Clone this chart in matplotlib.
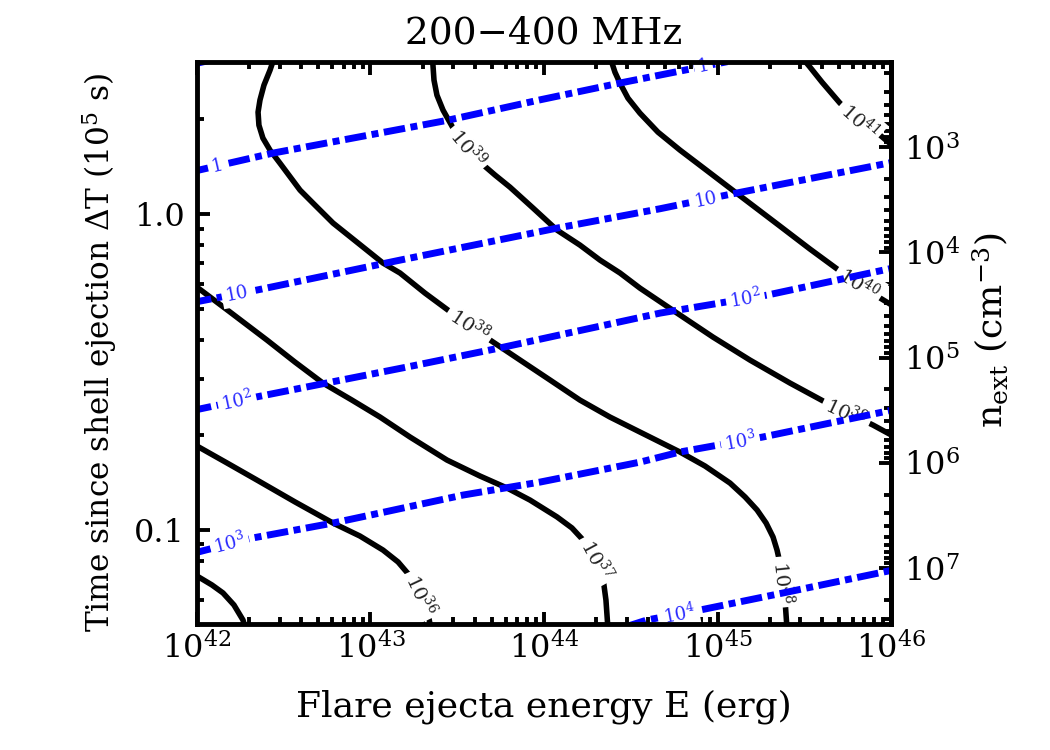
#!/usr/bin/env python3
"""
Radio luminosity contours (200-400 MHz) in the flare energy / time plane,
with external density lines and an n_ext axis on the right.
"""

import numpy as np
import matplotlib
matplotlib.use('Agg')
import matplotlib.pyplot as plt
from matplotlib.ticker import LogLocator, NullFormatter, FixedLocator, FuncFormatter

plt.rcParams['font.family'] = ['DejaVu Serif']
plt.rcParams['mathtext.fontset'] = 'dejavuserif'

TITLE = '200\u2212400 MHz'
X_LABEL = 'Flare ejecta energy E (erg)'
Y_LABEL = r'Time since shell ejection ΔT (10$^{5}$ s)'
Y2_LABEL = r'n$_{\rm ext}$ (cm$^{-3}$)'

E_LIM = (1e42, 1e46)
DT_LIM = (0.0504, 3.03)
Y_MAJOR = [0.1, 1.0]
N_MAJOR = [1e3, 1e4, 1e5, 1e6, 1e7]
N_EXT_AT_UNIT_DT = 4.33e3   # n_ext (cm^-3) at dT = 1 (1e5 s), n_ext ~ dT^-3

# black luminosity contours: log10(E / erg) and dT (1e5 s)
L41_LOGE = [45.481, 45.533, 45.602, 45.706, 45.821, 45.937, 46.012]
L41_DT = [3.162, 2.919, 2.617, 2.245, 1.969, 1.778, 1.641]
L40_LOGE = [44.375, 44.392, 44.409, 44.438, 44.484, 44.553, 44.657, 44.784, 44.928,
            45.072, 45.216, 45.360, 45.533, 45.706, 45.821, 45.919, 46.012]
L40_DT = [3.185, 3.005, 2.813, 2.597, 2.328, 2.087, 1.817, 1.594, 1.388,
          1.208, 1.052, 0.916, 0.775, 0.660, 0.600, 0.550, 0.512]
L39_LOGE = [43.354, 43.360, 43.366, 43.383, 43.418, 43.476, 43.550, 43.631, 43.718, 43.804,
            43.937, 44.075, 44.207, 44.323, 44.438, 44.553, 44.767, 44.974, 45.187, 45.418,
            45.631, 45.764, 45.896, 46.012]
L39_DT = [3.185, 2.961, 2.655, 2.380, 2.134, 1.872, 1.654, 1.461, 1.329, 1.217,
          1.045, 0.890, 0.798, 0.715, 0.651, 0.583, 0.486, 0.408, 0.3451, 0.2918,
          0.2522, 0.2329, 0.2149, 0.1984]
L38_LOGE = [42.450, 42.421, 42.386, 42.363, 42.352, 42.357, 42.380, 42.421, 42.478, 42.594,
            42.680, 42.784, 42.928, 43.072, 43.170, 43.314, 43.470, 43.573, 43.689, 43.862,
            44.035, 44.207, 44.380, 44.553, 44.784, 44.928, 45.072, 45.159, 45.228, 45.280,
            45.320, 45.343, 45.360, 45.378, 45.389, 45.401]
L38_DT = [3.185, 2.856, 2.560, 2.296, 2.103, 1.912, 1.740, 1.594, 1.450, 1.191,
          1.068, 0.937, 0.810, 0.700, 0.651, 0.5623, 0.486, 0.4455, 0.3994, 0.3451,
          0.2983, 0.2578, 0.2278, 0.2042, 0.1765, 0.1594, 0.1408, 0.1272, 0.1157, 0.1052,
          0.0950, 0.0864, 0.0786, 0.0690, 0.0600, 0.0483]
L37_LOGE = [41.960, 42.000, 42.190, 42.403, 42.565, 42.726, 42.893, 43.055, 43.228, 43.441,
            43.631, 43.787, 43.919, 44.075, 44.161, 44.225, 44.277, 44.311, 44.340, 44.357,
            44.369]
L37_DT = [0.609, 0.587, 0.490, 0.3994, 0.340, 0.2918, 0.2578, 0.2278, 0.1969, 0.1665,
          0.1482, 0.1358, 0.1244, 0.1100, 0.1015, 0.0930, 0.0858, 0.0792, 0.0705, 0.0600,
          0.0483]
L36_LOGE = [41.960, 42.000, 42.173, 42.346, 42.565, 42.784, 42.939, 43.072, 43.159, 43.228,
            43.285, 43.326, 43.349]
L36_DT = [0.190, 0.1844, 0.1630, 0.1439, 0.1227, 0.1052, 0.0957, 0.0864, 0.0792, 0.0715,
          0.0632, 0.0566, 0.0483]
L35_LOGE = [41.960, 42.000, 42.086, 42.150, 42.213, 42.265, 42.282]
L35_DT = [0.0736, 0.0715, 0.0670, 0.0632, 0.0579, 0.0519, 0.0483]

# blue density lines
B0_LOGE = [41.96, 42.10]
B0_DT = [2.97, 3.09]
B1_LOGE = [41.96, 42.438, 43.441, 43.977, 44.438, 45.072]
B1_DT = [1.358, 1.56, 1.98, 2.30, 2.60, 3.05]
B2_LOGE = [41.96, 42.346, 43.170, 44.075, 44.669, 45.055, 46.012]
B2_DT = [0.523, 0.575, 0.715, 0.903, 1.04, 1.15, 1.46]
B3_LOGE = [41.96, 42.346, 43.210, 43.746, 44.669, 45.285, 46.012]
B3_DT = [0.238, 0.264, 0.328, 0.377, 0.486, 0.554, 0.675]
B4_LOGE = [41.96, 42.323, 42.784, 43.055, 43.533, 43.977, 44.553, 44.784, 45.262, 46.012]
B4_DT = [0.0839, 0.0944, 0.1052, 0.1132, 0.129, 0.1418, 0.164, 0.1766, 0.197, 0.240]
B5_LOGE = [44.467, 44.594, 44.899, 45.378, 46.012]
B5_DT = [0.0493, 0.0519, 0.0558, 0.0632, 0.0747]

# where the inline labels sit (log10 E, dT)
L41_LABELS = [(45.81, 1.95)]
L40_LABELS = [(45.82, 0.609)]
L39_LABELS = [(43.56, 1.62), (45.75, 0.240)]
L38_LABELS = [(43.57, 0.445), (45.38, 0.0685)]
L37_LABELS = [(44.30, 0.0804)]
L36_LABELS = [(43.29, 0.0623)]
B1_LABELS = [(42.115, 1.43), (44.92, 2.90)]
B2_LABELS = [(42.23, 0.554), (44.93, 1.12)]
B3_LABELS = [(42.23, 0.258), (45.16, 0.542)]
B4_LABELS = [(42.19, 0.0897), (45.13, 0.193)]
B5_LABELS = [(44.78, 0.0546)]

BLACK = [
    (L41_LOGE, L41_DT, r'$10^{41}$', L41_LABELS),
    (L40_LOGE, L40_DT, r'$10^{40}$', L40_LABELS),
    (L39_LOGE, L39_DT, r'$10^{39}$', L39_LABELS),
    (L38_LOGE, L38_DT, r'$10^{38}$', L38_LABELS),
    (L37_LOGE, L37_DT, r'$10^{37}$', L37_LABELS),
    (L36_LOGE, L36_DT, r'$10^{36}$', L36_LABELS),
    (L35_LOGE, L35_DT, '', []),
]
BLUE = [
    (B0_LOGE, B0_DT, '', []),
    (B1_LOGE, B1_DT, '1', B1_LABELS),
    (B2_LOGE, B2_DT, '10', B2_LABELS),
    (B3_LOGE, B3_DT, r'$10^{2}$', B3_LABELS),
    (B4_LOGE, B4_DT, r'$10^{3}$', B4_LABELS),
    (B5_LOGE, B5_DT, r'$10^{4}$', B5_LABELS),
]


def inline_label(ax, xs, ys, near, text, color, size, zorder):
    """Put a rotated label on the polyline, at the point closest to `near`."""
    pts = ax.transData.transform(np.column_stack([xs, ys]))
    target = ax.transData.transform([near])[0]
    best = None
    for p, q in zip(pts[:-1], pts[1:]):
        d = q - p
        t = np.clip(np.dot(target - p, d) / np.dot(d, d), 0, 1)
        proj = p + t * d
        dist = np.hypot(*(target - proj))
        if best is None or dist < best[0]:
            best = (dist, proj, d)
    _, proj, d = best
    angle = np.degrees(np.arctan2(d[1], d[0]))
    if angle > 90:
        angle -= 180
    elif angle < -90:
        angle += 180
    x, y = ax.transData.inverted().transform(proj)
    ax.text(x, y, text, rotation=angle, rotation_mode='anchor', ha='center', va='center',
            color=color, fontsize=size, zorder=zorder,
            bbox=dict(boxstyle='square,pad=0.2', fc='white', ec='none'))


def to_n(dt):
    dt = np.asarray(dt, dtype=float)
    with np.errstate(divide='ignore', invalid='ignore'):
        return N_EXT_AT_UNIT_DT * dt ** -3.0


def to_dt(n):
    n = np.asarray(n, dtype=float)
    with np.errstate(divide='ignore', invalid='ignore'):
        return (n / N_EXT_AT_UNIT_DT) ** (-1.0 / 3.0)


fig = plt.figure(figsize=(10.5, 7.5), dpi=100)
ax = fig.add_axes([0.1876, 0.168, 0.661, 0.7493])
ax.set_xscale('log')
ax.set_yscale('log')
ax.set_xlim(*E_LIM)
ax.set_ylim(*DT_LIM)

for loge, dt, text, labels in BLACK:
    xs = 10 ** np.array(loge)
    ax.plot(xs, dt, color='black', lw=4.0, zorder=2, solid_joinstyle='round')
    for lx, ly in labels:
        inline_label(ax, xs, dt, (10 ** lx, ly), text, '#222222', 14, 3)

for loge, dt, text, labels in BLUE:
    xs = 10 ** np.array(loge)
    ax.plot(xs, dt, color='#0000ff', lw=5.0, zorder=4,
            linestyle=(0, (3.1, 0.8, 1.0, 0.8)), dash_capstyle='butt')
    for lx, ly in labels:
        inline_label(ax, xs, dt, (10 ** lx, ly), text, '#2a2aff', 13, 5)

# axes styling
for s in ax.spines.values():
    s.set_linewidth(3.5)
    s.set_zorder(6)

ax.tick_params(which='both', direction='in', top=True, right=False, width=2.8)
ax.tick_params(which='major', length=9, labelsize=23)
ax.tick_params(which='minor', length=5)
ax.tick_params(axis='x', pad=6)
ax.tick_params(axis='y', pad=9)

ax.xaxis.set_major_locator(LogLocator(base=10, numticks=10))
ax.xaxis.set_minor_locator(LogLocator(base=10, subs=np.arange(2, 10), numticks=20))
ax.xaxis.set_minor_formatter(NullFormatter())
ax.yaxis.set_major_locator(FixedLocator(Y_MAJOR))
ax.yaxis.set_major_formatter(FuncFormatter(lambda v, p: f'{v:.1f}'))
ax.yaxis.set_minor_locator(LogLocator(base=10, subs=np.arange(2, 10), numticks=20))
ax.yaxis.set_minor_formatter(NullFormatter())

secax = ax.secondary_yaxis('right', functions=(to_n, to_dt))
secax.yaxis.set_major_locator(FixedLocator(N_MAJOR))
secax.yaxis.set_minor_locator(LogLocator(base=10, subs=np.arange(2, 10), numticks=50))
secax.yaxis.set_minor_formatter(NullFormatter())
secax.tick_params(which='both', direction='in', width=2.8)
secax.tick_params(which='major', length=9, labelsize=23, pad=9)
secax.tick_params(which='minor', length=5)
secax.spines['right'].set_linewidth(3.5)

ax.set_xlabel(X_LABEL, fontsize=26, labelpad=17)
ax.set_title(TITLE, fontsize=27, pad=13)
# the two vertical axis titles sit slightly off the axes centre in the original
fig.text(0.0952, 0.530, Y_LABEL, rotation=90, ha='center', va='center', fontsize=22.5)
fig.text(0.9429, 0.560, Y2_LABEL, rotation=90, ha='center', va='center', fontsize=26)

fig.savefig('out.png', dpi=100)
